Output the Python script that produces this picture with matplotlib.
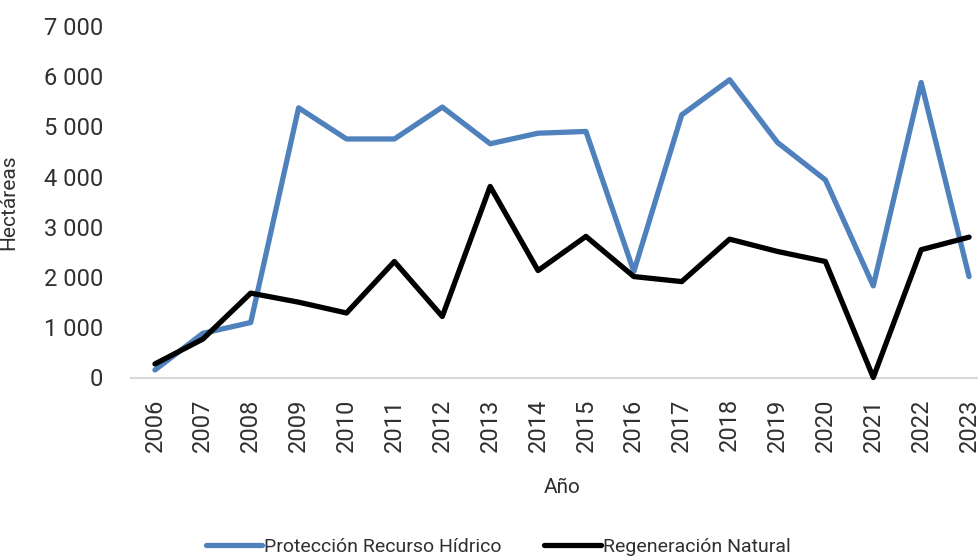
import matplotlib

matplotlib.use("Agg")

import matplotlib.pyplot as plt
import matplotlib.ticker as mticker

years = [str(y) for y in range(2006, 2024)]
proteccion = [150, 880, 1095, 5370, 4750, 4750, 5385, 4655, 4865, 4900,
              2110, 5230, 5930, 4680, 3935, 1825, 5875, 2010]
regeneracion = [270, 765, 1680, 1500, 1285, 2310, 1215, 3805, 2130, 2810,
                2010, 1910, 2755, 2510, 2310, 0, 2545, 2795]

BLUE = "#4F81BD"
TEXT = "#303030"
TICKFONT = ["Roboto", "DejaVu Sans"]
NARROW = ["Liberation Sans Narrow", "Roboto", "DejaVu Sans"]

fig = plt.figure(figsize=(9.79, 5.57), dpi=100)
ax = fig.add_axes([131 / 979, 1 - 377.5 / 557, 862 / 979, 351.5 / 557])

x = range(len(years))
ax.plot(x, proteccion, color=BLUE, linewidth=3.8, solid_capstyle="round",
        solid_joinstyle="round", label="Protección Recurso Hídrico", clip_on=False)
ax.plot(x, regeneracion, color="black", linewidth=3.8, solid_capstyle="round",
        solid_joinstyle="round", label="Regeneración Natural", clip_on=False)

ax.set_xlim(-0.5, len(years) - 0.5)
ax.set_ylim(0, 7000)
ax.set_xticks(list(x))
ax.set_xticklabels(years, rotation=90, fontsize=17, color=TEXT, family=TICKFONT)
ax.yaxis.set_major_locator(mticker.MultipleLocator(1000))
ax.yaxis.set_major_formatter(mticker.FuncFormatter(lambda v, _: f"{v:,.0f}".replace(",", " ")))
for lab in ax.get_yticklabels():
    lab.set_fontsize(17)
    lab.set_color(TEXT)
    lab.set_family(TICKFONT)
ax.tick_params(axis="x", length=0, pad=15)
ax.tick_params(axis="y", length=0, pad=20)

for s in ("top", "right", "left"):
    ax.spines[s].set_visible(False)
ax.spines["bottom"].set_color("#D9D9D9")
ax.spines["bottom"].set_linewidth(1.5)
ax.spines["bottom"].set_zorder(0)

ax.set_ylabel("Hectáreas", fontsize=15, color=TEXT, family=NARROW)
ax.yaxis.set_label_coords((18 - 131) / 862, 0.5)
ax.set_xlabel("Año", fontsize=15, color=TEXT, family=NARROW)
ax.xaxis.set_label_coords(0.5, (377.5 - 478) / 351.5)

fig.legend(loc="center", bbox_to_anchor=(498 / 979, 1 - 547 / 557), ncol=2,
           frameon=False, handlelength=2.9, handletextpad=0.1, columnspacing=2.2,
           prop={"family": NARROW, "size": 14}, labelcolor=TEXT)

fig.savefig("out.png", dpi=100)
